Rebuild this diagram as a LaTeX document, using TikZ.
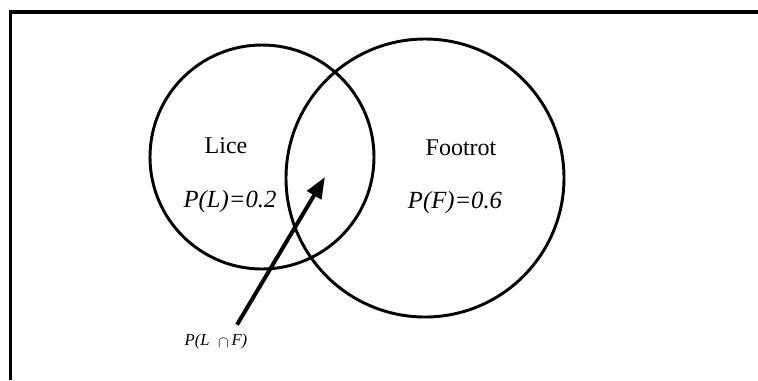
\documentclass[tikz,border=0pt]{standalone}
\usepackage{fontspec}
\setmainfont{Liberation Serif}
\usetikzlibrary{arrows.meta, positioning, calc}
\begin{document}
\begin{tikzpicture}[
    x=0.75pt, y=-0.75pt,
    every node/.style={font=\fontsize{18}{21}\selectfont},
    set/.style={circle, draw, line width=2.2pt, inner sep=0pt},
    prob/.style={font=\fontsize{18.5}{21}\selectfont\itshape},
    small/.style={font=\fontsize{12.5}{15}\selectfont\itshape},
    arrow/.style={-{Triangle[length=16pt, width=12pt]}, line width=3pt}
]
\useasboundingbox (0,0) rectangle (758,380);
% frame
\draw[line width=2.5pt] (10.5,380) -- (10.5,12) -- (758,12);
% sets
\node[set, minimum size=168pt] (lice) at (262,157) {};
\node[set, minimum size=208.5pt] (foot) at (425,178) {};
% labels
\node (licename) at (226,146) {Lice};
\node[prob] (plice) at (230,202) {P(L)=0.2};
\node (footname) at (461,148) {Footrot};
\node[prob] (pfoot) at (455,203) {P(F)=0.6};
\node[small] (inter) at (216,341) {P(L\ \ \raisebox{-2pt}{$\cap$}\,F)};
% arrow to intersection
\coordinate (tip) at (325,177);
\draw[arrow] ($(inter.north)+(21,-4)$) -- (tip);
\end{tikzpicture}
\end{document}
